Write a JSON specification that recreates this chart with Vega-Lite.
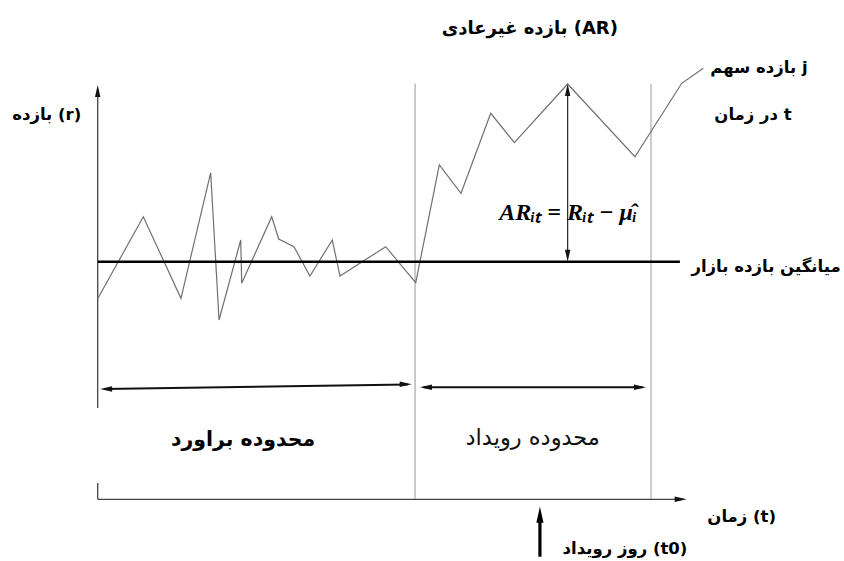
{
  "$schema": "https://vega.github.io/schema/vega-lite/v6.json",
  "width": 844,
  "height": 561,
  "padding": 0,
  "autosize": "none",
  "background": "white",
  "config": {"view": {"stroke": null}},
  "datasets": {
    "stock": [
      {"t": 0, "r": -3.7}, {"t": 4.31, "r": 4.5}, {"t": 7.87, "r": -3.66},
      {"t": 10.68, "r": 8.9}, {"t": 11.47, "r": -5.83}, {"t": 13.52, "r": 2.17},
      {"t": 13.61, "r": -2.16}, {"t": 16.45, "r": 4.5}, {"t": 17.11, "r": 2.27},
      {"t": 18.55, "r": 1.5}, {"t": 20.06, "r": -1.43}, {"t": 22.17, "r": 2.17},
      {"t": 22.9, "r": -1.43}, {"t": 27.22, "r": 1.5}, {"t": 30.06, "r": -2.1},
      {"t": 32.29, "r": 9.67}, {"t": 34.34, "r": 6.84}, {"t": 37.15, "r": 14.84},
      {"t": 39.38, "r": 11.9}, {"t": 44.42, "r": 17.77}, {"t": 50.78, "r": 10.5},
      {"t": 55.2, "r": 17.84}, {"t": 57.24, "r": 19.34}
    ],
    "segments": [
      {"part": "axis", "t": 0, "r": -23.76, "t2": 0, "r2": -22.13},
      {"part": "axis", "t": 0, "r": -14.63, "t2": 0, "r2": 17.3},
      {"part": "axis", "t": 0, "r": -23.76, "t2": 55.3, "r2": -23.76},
      {"part": "window", "t": 30, "r": 17.8, "t2": 30, "r2": -23.76},
      {"part": "window", "t": 52.3, "r": 17.8, "t2": 52.3, "r2": -23.76},
      {"part": "market", "t": 0, "r": 0, "t2": 55.03, "r2": 0},
      {"part": "span", "t": 0.6, "r": -12.72, "t2": 29.3, "r2": -12.27},
      {"part": "span", "t": 30.8, "r": -12.56, "t2": 51.5, "r2": -12.56},
      {"part": "ar", "t": 44.42, "r": 0.5, "t2": 44.42, "r2": 17.3},
      {"part": "event", "t": 41.8, "r": -29.5, "t2": 41.8, "r2": -25.6}
    ],
    "heads": [
      {"part": "thin", "t": 0, "r": 17.67, "dir": "up"},
      {"part": "thin", "t": 55.67, "r": -23.76, "dir": "right"},
      {"part": "thin", "t": 0.23, "r": -12.73, "dir": "left"},
      {"part": "thin", "t": 29.68, "r": -12.26, "dir": "right"},
      {"part": "thin", "t": 30.46, "r": -12.56, "dir": "left"},
      {"part": "thin", "t": 51.82, "r": -12.56, "dir": "right"},
      {"part": "thin", "t": 44.42, "r": 17.77, "dir": "up"},
      {"part": "thin", "t": 44.42, "r": 0, "dir": "down"},
      {"part": "thick", "t": 41.8, "r": -24.5, "dir": "up"}
    ],
    "labels": [
      {"kind": "title", "t": 40.85, "r": 23.24, "text": "بازده غیرعادی (AR)"},
      {"kind": "note", "t": 62.5, "r": 19.34, "text": "بازده سهم j"},
      {"kind": "note", "t": 61.94, "r": 14.67, "text": "در زمان t"},
      {"kind": "note", "t": 63.17, "r": -0.5, "text": "میانگین بازده بازار"},
      {"kind": "note", "t": -4.82, "r": 14.67, "text": "بازده (r)"},
      {"kind": "note", "t": 60.87, "r": -25.5, "text": "زمان (t)"},
      {"kind": "note", "t": 49.84, "r": -28.76, "text": "روز رویداد (t0)"},
      {"kind": "estimation", "t": 13.74, "r": -17.83, "text": "محدوده براورد"},
      {"kind": "event", "t": 41.12, "r": -17.63, "text": "محدوده رویداد"},
      {"kind": "formula", "t": 44.46, "r": 4.87, "text": "ARᵢₜ = Rᵢₜ − μ̂ᵢ"}
    ]
  },
  "encoding": {
    "x": {"field": "t", "type": "quantitative", "axis": null,
          "scale": {"domain": [-9.234, 70.54], "nice": false, "zero": false}},
    "y": {"field": "r", "type": "quantitative", "axis": null,
          "scale": {"domain": [-29.93, 26.17], "nice": false, "zero": false}}
  },
  "layer": [
    {
      "data": {"name": "segments"},
      "transform": [{"filter": "datum.part == 'window'"}],
      "mark": {"type": "rule", "color": "#9a9a9a", "strokeWidth": 1},
      "encoding": {"x2": {"field": "t2"}, "y2": {"field": "r2"}}
    },
    {
      "data": {"name": "segments"},
      "transform": [{"filter": "datum.part == 'axis'"}],
      "mark": {"type": "rule", "color": "#444444", "strokeWidth": 1.3},
      "encoding": {"x2": {"field": "t2"}, "y2": {"field": "r2"}}
    },
    {
      "data": {"name": "stock"},
      "mark": {"type": "line", "color": "#707070", "strokeWidth": 1.2}
    },
    {
      "data": {"name": "segments"},
      "transform": [{"filter": "datum.part == 'market'"}],
      "mark": {"type": "rule", "color": "#000000", "strokeWidth": 2.6},
      "encoding": {"x2": {"field": "t2"}, "y2": {"field": "r2"}}
    },
    {
      "data": {"name": "segments"},
      "transform": [{"filter": "datum.part == 'span'"}],
      "mark": {"type": "rule", "color": "#111111", "strokeWidth": 2},
      "encoding": {"x2": {"field": "t2"}, "y2": {"field": "r2"}}
    },
    {
      "data": {"name": "segments"},
      "transform": [{"filter": "datum.part == 'ar'"}],
      "mark": {"type": "rule", "color": "#222222", "strokeWidth": 1.2},
      "encoding": {"x2": {"field": "t2"}, "y2": {"field": "r2"}}
    },
    {
      "data": {"name": "segments"},
      "transform": [{"filter": "datum.part == 'event'"}],
      "mark": {"type": "rule", "color": "#000000", "strokeWidth": 3.2},
      "encoding": {"x2": {"field": "t2"}, "y2": {"field": "r2"}}
    },
    {
      "data": {"name": "heads"},
      "transform": [{"filter": "datum.part == 'thin'"}],
      "mark": {"type": "point", "filled": true, "color": "#111111", "size": 144, "opacity": 1},
      "encoding": {
        "shape": {"field": "dir", "type": "nominal", "legend": null,
                  "scale": {"domain": ["up", "down", "left", "right"],
                            "range": ["M0,0L0.45,2L-0.45,2Z", "M0,0L0.45,-2L-0.45,-2Z", "M0,0L2,0.45L2,-0.45Z", "M0,0L-2,0.45L-2,-0.45Z"]}}
      }
    },
    {
      "data": {"name": "heads"},
      "transform": [{"filter": "datum.part == 'thick'"}],
      "mark": {"type": "point", "filled": true, "color": "#000000", "size": 256, "opacity": 1},
      "encoding": {
        "shape": {"field": "dir", "type": "nominal", "legend": null}
      }
    },
    {
      "data": {"name": "labels"},
      "transform": [{"filter": "datum.kind == 'title'"}],
      "mark": {"type": "text", "dir": "rtl", "align": "center", "baseline": "middle",
               "font": "DejaVu Sans", "fontWeight": "bold", "fontSize": 18, "color": "#000000"},
      "encoding": {"text": {"field": "text"}}
    },
    {
      "data": {"name": "labels"},
      "transform": [{"filter": "datum.kind == 'note'"}],
      "mark": {"type": "text", "dir": "rtl", "align": "center", "baseline": "middle",
               "font": "DejaVu Sans", "fontWeight": "bold", "fontSize": 16.5, "color": "#000000"},
      "encoding": {"text": {"field": "text"}}
    },
    {
      "data": {"name": "labels"},
      "transform": [{"filter": "datum.kind == 'estimation'"}],
      "mark": {"type": "text", "dir": "rtl", "align": "center", "baseline": "middle",
               "font": "DejaVu Sans", "fontWeight": "bold", "fontSize": 20.5, "color": "#000000"},
      "encoding": {"text": {"field": "text"}}
    },
    {
      "data": {"name": "labels"},
      "transform": [{"filter": "datum.kind == 'event'"}],
      "mark": {"type": "text", "dir": "rtl", "align": "center", "baseline": "middle",
               "font": "DejaVu Sans", "fontWeight": "normal", "fontSize": 22.5, "color": "#111111"},
      "encoding": {"text": {"field": "text"}}
    },
    {
      "data": {"name": "labels"},
      "transform": [{"filter": "datum.kind == 'formula'"}],
      "mark": {"type": "text", "align": "center", "baseline": "middle",
               "font": "Liberation Serif", "fontWeight": "bold", "fontStyle": "italic", "fontSize": 24, "color": "#000000"},
      "encoding": {"text": {"field": "text"}}
    }
  ]
}
